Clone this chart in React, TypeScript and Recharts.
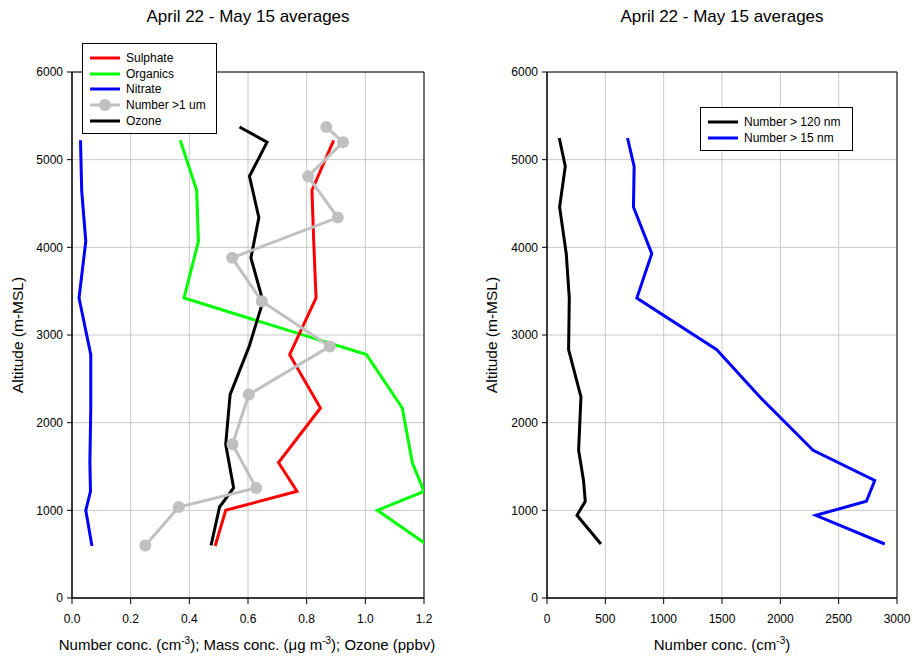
import React from "react";
import { LineChart, Line, XAxis, YAxis, CartesianGrid, ReferenceArea } from "recharts";

const FONT = '"Liberation Sans", Arial, Helvetica, sans-serif';

// Left panel: aerosol composition levels (m)
const compAlt = [5221, 4650, 4069, 3422, 2776, 2167, 1544, 1217, 1000, 593];
const sulphate = [0.892, 0.818, 0.824, 0.832, 0.742, 0.847, 0.704, 0.767, 0.524, 0.488];
const organics = [0.369, 0.425, 0.431, 0.382, 1.004, 1.126, 1.16, 1.2, 1.041, 1.217];
const nitrate = [0.029, 0.033, 0.047, 0.024, 0.064, 0.064, 0.061, 0.063, 0.047, 0.068];

// Left panel: coarse particle number and ozone levels (m)
const profAlt = [5372, 5200, 4810, 4340, 3880, 3385, 2870, 2320, 1753, 1255, 1038, 600];
const numGt1um = [0.867, 0.924, 0.805, 0.906, 0.546, 0.647, 0.879, 0.603, 0.547, 0.628, 0.364, 0.25];
const ozone = [0.571, 0.665, 0.605, 0.637, 0.61, 0.651, 0.604, 0.539, 0.524, 0.551, 0.503, 0.474];

// Right panel: number concentration levels (m)
const numAlt = [5247, 4924, 4460, 3928, 3422, 2833, 2293, 1685, 1340, 1103, 943, 616];
const numGt120 = [105, 157, 108, 165, 191, 185, 291, 271, 313, 328, 257, 462];
const numGt15 = [690, 747, 741, 898, 770, 1455, 1825, 2281, 2809, 2738, 2304, 2895];

const altTicks = [0, 1000, 2000, 3000, 4000, 5000, 6000];
const leftTicks = [0, 0.2, 0.4, 0.6, 0.8, 1.0, 1.2];
const rightTicks = [0, 500, 1000, 1500, 2000, 2500, 3000];

const toPoints = (xs: number[], alts: number[]) => xs.map((x, i) => ({ x, alt: alts[i] }));

const tickStyle = { fontSize: 12, fill: "#000", fontFamily: FONT };
const GRID = "#c8c8c8";

function LegendBox({ left, top, width, items }: { left: number; top: number; width: number; items: { label: string; color: string; dot?: boolean }[] }) {
  return (
    <div style={{
      position: "absolute", left, top, width, background: "#fff",
      border: "1px solid #000", padding: "6px 0 5px 0", boxSizing: "border-box",
    }}>
      {items.map((it) => (
        <div key={it.label} style={{ display: "flex", alignItems: "center", height: 15.7, fontSize: 12 }}>
          <svg width={40} height={14} style={{ marginLeft: 7 }}>
            <line x1={0} y1={7} x2={30} y2={7} stroke={it.color} strokeWidth={3} />
            {it.dot && <circle cx={15} cy={7} r={6} fill={it.color} />}
          </svg>
          <span style={{ marginLeft: -4 }}>{it.label}</span>
        </div>
      ))}
    </div>
  );
}

export default function App() {
  const abs = { position: "absolute" as const };
  return (
    <div style={{ position: "absolute", left: 0, top: 0, width: 912, height: 656, background: "#fff", fontFamily: FONT, color: "#000" }}>
      {/* Left panel */}
      <div style={{ ...abs, left: 0, top: 0 }}>
        <LineChart width={440} height={656} margin={{ top: 72, right: 16, left: 32, bottom: 28 }}>
          <CartesianGrid stroke={GRID} strokeWidth={1} />
          <XAxis type="number" dataKey="x" domain={[0, 1.2]} ticks={leftTicks} allowDataOverflow
            tickFormatter={(v: number) => v.toFixed(1)} tick={tickStyle} tickSize={6} tickMargin={10}
            height={30} stroke="#000" tickLine={{ stroke: "#000" }} />
          <YAxis type="number" dataKey="alt" domain={[0, 6000]} ticks={altTicks} allowDataOverflow
            tick={tickStyle} tickSize={5} tickMargin={4} width={40} stroke="#000" tickLine={{ stroke: "#000" }} />
          <ReferenceArea x1={0} x2={1.2} y1={0} y2={6000} fill="none" stroke="#000" strokeWidth={1} />
          <Line data={toPoints(nitrate, compAlt)} dataKey="alt" stroke="#0000ff" strokeWidth={3} dot={false} isAnimationActive={false} />
          <Line data={toPoints(organics, compAlt)} dataKey="alt" stroke="#00ff00" strokeWidth={3} dot={false} isAnimationActive={false} />
          <Line data={toPoints(sulphate, compAlt)} dataKey="alt" stroke="#ff0000" strokeWidth={3} dot={false} isAnimationActive={false} />
          <Line data={toPoints(ozone, profAlt)} dataKey="alt" stroke="#000000" strokeWidth={3} dot={false} isAnimationActive={false} />
          <Line data={toPoints(numGt1um, profAlt)} dataKey="alt" stroke="#c0c0c0" strokeWidth={3}
            dot={{ r: 6, fill: "#c0c0c0", stroke: "none" }} isAnimationActive={false} />
        </LineChart>
      </div>

      {/* Right panel */}
      <div style={{ ...abs, left: 460, top: 0 }}>
        <LineChart width={452} height={656} margin={{ top: 72, right: 15, left: 47, bottom: 28 }}>
          <CartesianGrid stroke={GRID} strokeWidth={1} />
          <XAxis type="number" dataKey="x" domain={[0, 3000]} ticks={rightTicks} allowDataOverflow
            tick={tickStyle} tickSize={6} tickMargin={10} height={30} stroke="#000" tickLine={{ stroke: "#000" }} />
          <YAxis type="number" dataKey="alt" domain={[0, 6000]} ticks={altTicks} allowDataOverflow
            tick={tickStyle} tickSize={5} tickMargin={4} width={40} stroke="#000" tickLine={{ stroke: "#000" }} />
          <ReferenceArea x1={0} x2={3000} y1={0} y2={6000} fill="none" stroke="#000" strokeWidth={1} />
          <Line data={toPoints(numGt120, numAlt)} dataKey="alt" stroke="#000000" strokeWidth={3} dot={false} isAnimationActive={false} />
          <Line data={toPoints(numGt15, numAlt)} dataKey="alt" stroke="#0000ff" strokeWidth={3} dot={false} isAnimationActive={false} />
        </LineChart>
      </div>

      {/* Titles */}
      <div style={{ ...abs, left: 98, top: 7, width: 300, textAlign: "center", fontSize: 17 }}>April 22 - May 15 averages</div>
      <div style={{ ...abs, left: 572, top: 7, width: 300, textAlign: "center", fontSize: 17 }}>April 22 - May 15 averages</div>

      {/* Y axis titles */}
      <div style={{ ...abs, left: 18 - 100, top: 335 - 9, width: 200, textAlign: "center", fontSize: 15.5, transform: "rotate(-90deg)" }}>Altitude (m-MSL)</div>
      <div style={{ ...abs, left: 492 - 100, top: 335 - 9, width: 200, textAlign: "center", fontSize: 15.5, transform: "rotate(-90deg)" }}>Altitude (m-MSL)</div>

      {/* X axis titles */}
      <div style={{ ...abs, left: 47, top: 636, width: 400, textAlign: "center", fontSize: 15, whiteSpace: "nowrap", lineHeight: "17px" }}>
        Number conc. (cm<sup style={{ fontSize: 10, lineHeight: 0 }}>-3</sup>); Mass conc. (&mu;g m<sup style={{ fontSize: 10, lineHeight: 0 }}>-3</sup>); Ozone (ppbv)
      </div>
      <div style={{ ...abs, left: 572, top: 636, width: 300, textAlign: "center", fontSize: 15, whiteSpace: "nowrap", lineHeight: "17px" }}>
        Number conc. (cm<sup style={{ fontSize: 10, lineHeight: 0 }}>-3</sup>)
      </div>

      {/* Legends */}
      <LegendBox left={82} top={43} width={135} items={[
        { label: "Sulphate", color: "#ff0000" },
        { label: "Organics", color: "#00ff00" },
        { label: "Nitrate", color: "#0000ff" },
        { label: "Number >1 um", color: "#c0c0c0", dot: true },
        { label: "Ozone", color: "#000000" },
      ]} />
      <LegendBox left={700} top={107} width={153} items={[
        { label: "Number > 120 nm", color: "#000000" },
        { label: "Number > 15 nm", color: "#0000ff" },
      ]} />
    </div>
  );
}
